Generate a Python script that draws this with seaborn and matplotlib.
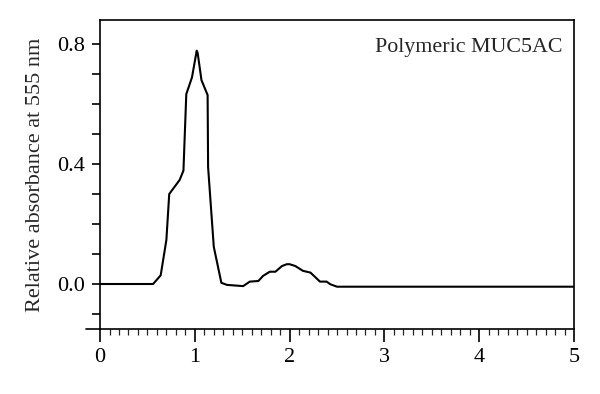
import numpy as np
import pandas as pd
import matplotlib
matplotlib.use("Agg")
import matplotlib.pyplot as plt
import seaborn as sns
from matplotlib.ticker import MultipleLocator

# Elution profile
fraction = [0.0, 0.56, 0.64, 0.70, 0.73, 0.84, 0.88, 0.91, 0.97, 1.02, 1.03,
            1.07, 1.135, 1.14, 1.20, 1.28, 1.34, 1.51, 1.58, 1.67, 1.72, 1.79,
            1.85, 1.92, 1.97, 2.00, 2.06, 2.14, 2.22, 2.32, 2.39, 2.43, 2.50, 5.0]
absorbance = [0.0, 0.0, 0.029, 0.147, 0.30, 0.347, 0.378, 0.633, 0.689, 0.778, 0.77,
              0.68, 0.63, 0.39, 0.124, 0.004, -0.003, -0.007, 0.008, 0.01, 0.027, 0.041,
              0.041, 0.06, 0.066, 0.066, 0.06, 0.044, 0.038, 0.008, 0.008, -0.001, -0.009, -0.009]

df = pd.DataFrame({"x": fraction, "y": absorbance})

sns.set_style("ticks")
plt.rcParams["font.family"] = ["Liberation Serif", "DejaVu Serif"]

fig = plt.figure(figsize=(6, 3.94), dpi=100)
ax = fig.add_axes([0.1667, 0.165, 0.79, 0.784])

sns.lineplot(data=df, x="x", y="y", color="black", linewidth=1.5, ax=ax)

ax.set_xlim(0, 5)
ax.set_ylim(-0.15, 0.88)
ax.xaxis.set_major_locator(MultipleLocator(1))
ax.xaxis.set_minor_locator(MultipleLocator(0.1))
ax.yaxis.set_major_locator(MultipleLocator(0.4))
ax.yaxis.set_minor_locator(MultipleLocator(0.1))
ax.yaxis.set_major_formatter(matplotlib.ticker.FormatStrFormatter("%.1f"))

for s in ax.spines.values():
    s.set_linewidth(1.2)
    s.set_color("black")

ax.tick_params(axis="x", which="major", direction="out", length=9.5, width=1.2,
               labelsize=16, pad=4, colors="black")
ax.tick_params(axis="x", which="minor", direction="out", length=4, width=0.9)
ax.tick_params(axis="y", which="both", direction="out", length=5.5, width=1.2,
               labelsize=16, pad=5, colors="black")

# bottom axis line runs slightly past the left spine
ax.plot([-0.029, 0], [0, 0], transform=ax.transAxes, color="black",
        linewidth=1.2, clip_on=False)

ax.set_xlabel("")
ax.set_ylabel("Relative absorbance at 555 nm", fontsize=16, labelpad=9)
ax.text(0.975, 0.91, "Polymeric MUC5AC", transform=ax.transAxes,
        ha="right", va="center", fontsize=15.8)

fig.savefig("out.png", dpi=100)
